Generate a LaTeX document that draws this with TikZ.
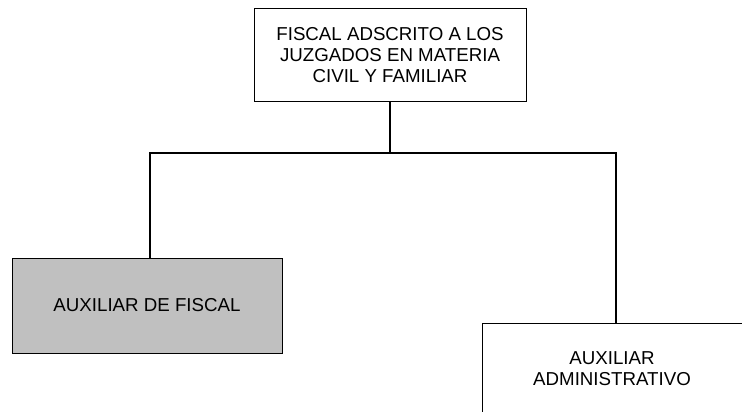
\documentclass[tikz,border=0pt]{standalone}
\usepackage{fontspec}
\setmainfont{Liberation Sans}
\definecolor{boxgray}{HTML}{C0C0C0}
\begin{document}
\begin{tikzpicture}[x=1pt,y=-1pt,
  orgbox/.style={draw=black,line width=1pt,inner sep=0pt,align=center,
    font=\fontsize{18.7}{20.7}\selectfont,text=black},
  link/.style={draw=black,line width=1.6pt}]
\useasboundingbox (0,0) rectangle (742,412);
\clip (0,0) rectangle (742,412);
\node[orgbox,minimum width=272pt,minimum height=92pt] (top) at (390,55)
  {FISCAL ADSCRITO A LOS\\JUZGADOS EN MATERIA\\CIVIL Y FAMILIAR};
\node[orgbox,fill=boxgray,minimum width=270pt,minimum height=95pt] (aux) at (147,305.5)
  {AUXILIAR DE FISCAL};
\node[orgbox,minimum width=260pt,minimum height=92pt] (adm) at (612,369)
  {AUXILIAR\\ADMINISTRATIVO};
\coordinate (busL) at (150,153);
\coordinate (busR) at (616,153);
\draw[link] (top.south) -- (top.south |- busL);
\draw[link,line cap=rect] (busL) -- (busR);
\draw[link,line width=1.3pt] (busL) -- (busL |- aux.north);
\draw[link,line width=1.3pt] (busR) -- (busR |- adm.north);
\end{tikzpicture}
\end{document}
